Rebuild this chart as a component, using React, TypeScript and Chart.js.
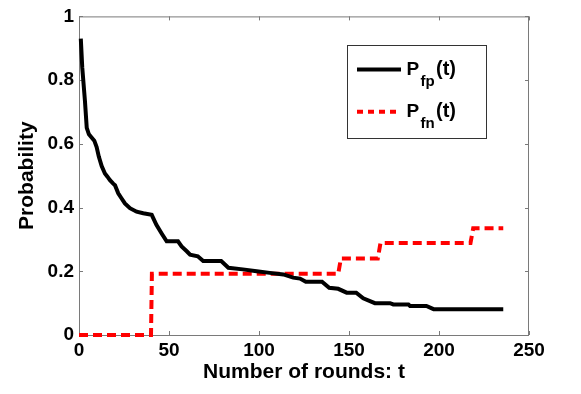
import React, { useEffect, useRef } from "react";
import { Chart, registerables } from "chart.js";

Chart.register(...registerables);

// Black curve: P_fp(t)
const fpT = [1, 1.8, 3.3, 4.3, 5.5, 7, 8.5, 9.8, 11, 12.6, 14.4, 15.8, 17.2, 19, 20, 21.8, 23.5, 25.5, 28.3, 32, 35.7, 40.4, 43, 46, 48.7, 55, 57, 60, 61.7, 66, 69, 79, 83, 91, 98.7, 106, 113.5, 119, 122.8, 126, 135, 139, 144, 148.7, 154, 157.9, 164.4, 172.8, 174.6, 183, 183.9, 193, 197, 235.7];
const fpP = [0.93, 0.84, 0.735, 0.65, 0.63, 0.62, 0.61, 0.59, 0.56, 0.53, 0.507, 0.497, 0.486, 0.475, 0.47, 0.445, 0.43, 0.413, 0.398, 0.387, 0.382, 0.377, 0.346, 0.318, 0.294, 0.294, 0.278, 0.262, 0.252, 0.247, 0.232, 0.232, 0.211, 0.206, 0.2, 0.195, 0.19, 0.18, 0.177, 0.167, 0.167, 0.148, 0.145, 0.133, 0.133, 0.115, 0.1, 0.1, 0.096, 0.096, 0.091, 0.091, 0.081, 0.081];

// Red dashed curve: P_fn(t)
const fnT = [0, 40, 40.5, 144, 145.5, 166, 167.5, 217.5, 219, 235.7];
const fnP = [0, 0, 0.192, 0.192, 0.24, 0.24, 0.289, 0.289, 0.335, 0.335];

const xTicks = [0, 50, 100, 150, 200, 250];
const yTicks = [0, 0.2, 0.4, 0.6, 0.8, 1];

const legendLabels = [
  { main: "P", sub: "fp", tail: "(t)" },
  { main: "P", sub: "fn", tail: "(t)" },
];

const FONT = "'Liberation Sans', Arial, sans-serif";
const AXIS_GRAY = "#7a7a7a";

const boxPlugin = {
  id: "boxPlugin",
  beforeDatasetsDraw(chart: any) {
    const { ctx, chartArea: a, scales } = chart;
    ctx.save();
    ctx.strokeStyle = AXIS_GRAY;
    ctx.lineWidth = 1;
    ctx.strokeRect(a.left + 0.5, a.top + 0.5, a.right - a.left - 1, a.bottom - a.top);
    const tl = 4;
    ctx.beginPath();
    xTicks.forEach((v) => {
      const x = Math.round(scales.x.getPixelForValue(v)) + 0.5;
      ctx.moveTo(x, a.bottom);
      ctx.lineTo(x, a.bottom - tl);
      ctx.moveTo(x, a.top);
      ctx.lineTo(x, a.top + tl);
    });
    yTicks.forEach((v) => {
      const y = Math.round(scales.y.getPixelForValue(v)) + 0.5;
      ctx.moveTo(a.left, y);
      ctx.lineTo(a.left + tl, y);
      ctx.moveTo(a.right, y);
      ctx.lineTo(a.right - tl, y);
    });
    ctx.stroke();
    ctx.restore();
  },
  afterDatasetsDraw(chart: any) {
    const { ctx } = chart;
    ctx.save();
    const bx = 347, by = 45, bw = 139, bh = 93;
    ctx.fillStyle = "#ffffff";
    ctx.fillRect(bx, by, bw, bh);
    ctx.strokeStyle = "#333333";
    ctx.lineWidth = 1;
    ctx.strokeRect(bx + 0.5, by + 0.5, bw, bh);
    const rows = [69.5, 111.7];
    const ds = chart.data.datasets;
    rows.forEach((ly, i) => {
      const d = ds[i];
      ctx.beginPath();
      ctx.strokeStyle = d.borderColor;
      ctx.lineWidth = 4;
      ctx.setLineDash(i === 1 ? [6, 5] : []);
      ctx.moveTo(357, ly);
      ctx.lineTo(401, ly);
      ctx.stroke();
      ctx.setLineDash([]);
      const lab = legendLabels[i];
      const base = ly + 5;
      ctx.fillStyle = "#000";
      ctx.textBaseline = "alphabetic";
      ctx.textAlign = "left";
      ctx.font = `bold 19px ${FONT}`;
      ctx.fillText(lab.main, 406.5, base);
      ctx.font = `bold 15px ${FONT}`;
      ctx.fillText(lab.sub, 420.5, base + 11);
      ctx.font = `bold 20px ${FONT}`;
      ctx.fillText(lab.tail, 436, base);
    });
    ctx.restore();
  },
};

export default function App() {
  const ref = useRef<HTMLCanvasElement | null>(null);
  useEffect(() => {
    if (!ref.current) return;
    const chart = new Chart(ref.current, {
      type: "line",
      data: {
        datasets: [
          {
            label: "Pfp(t)",
            data: fpT.map((t, i) => ({ x: t, y: fpP[i] })),
            borderColor: "#000000",
            borderWidth: 4,
            pointRadius: 0,
            tension: 0,
            clip: false as any,
          },
          {
            label: "Pfn(t)",
            data: fnT.map((t, i) => ({ x: t, y: fnP[i] })),
            borderColor: "#ff0000",
            borderWidth: 4,
            borderDash: [9, 5],
            pointRadius: 0,
            tension: 0,
            clip: false as any,
          },
        ],
      },
      options: {
        animation: false,
        responsive: false,
        maintainAspectRatio: false,
        layout: { padding: { top: 15, right: 52, left: 0, bottom: 0 } },
        plugins: { legend: { display: false }, tooltip: { enabled: false } },
        scales: {
          x: {
            type: "linear",
            min: 0,
            max: 250,
            afterFit: (s: any) => {
              s.height = 59;
            },
            afterBuildTicks: (s: any) => {
              s.ticks = xTicks.map((v) => ({ value: v }));
            },
            grid: { display: false, drawTicks: false },
            border: { display: false },
            ticks: {
              color: "#000",
              padding: 4,
              font: { family: FONT, size: 19, weight: "bold" },
              maxRotation: 0,
            },
            title: {
              display: true,
              text: "Number of rounds: t",
              color: "#000",
              font: { family: FONT, size: 21, weight: "bold" },
              padding: { top: 0, bottom: 9 },
            },
          },
          y: {
            type: "linear",
            min: 0,
            max: 1,
            afterFit: (s: any) => {
              s.width = 79;
            },
            afterBuildTicks: (s: any) => {
              s.ticks = yTicks.map((v) => ({ value: v }));
            },
            grid: { display: false, drawTicks: false },
            border: { display: false },
            ticks: {
              color: "#000",
              padding: 5,
              font: { family: FONT, size: 19, weight: "bold" },
              callback: (v: any) => String(Math.round(Number(v) * 10) / 10),
            },
            title: {
              display: true,
              text: "Probability",
              color: "#000",
              font: { family: FONT, size: 21, weight: "bold" },
              padding: { top: 15, bottom: 0 },
            },
          },
        },
      },
      plugins: [boxPlugin],
    });
    return () => chart.destroy();
  }, []);
  return (
    <div style={{ position: "fixed", left: 0, top: 0, width: 581, height: 394, background: "#fff" }}>
      <canvas ref={ref} width={581} height={394} style={{ width: 581, height: 394 }} />
    </div>
  );
}
